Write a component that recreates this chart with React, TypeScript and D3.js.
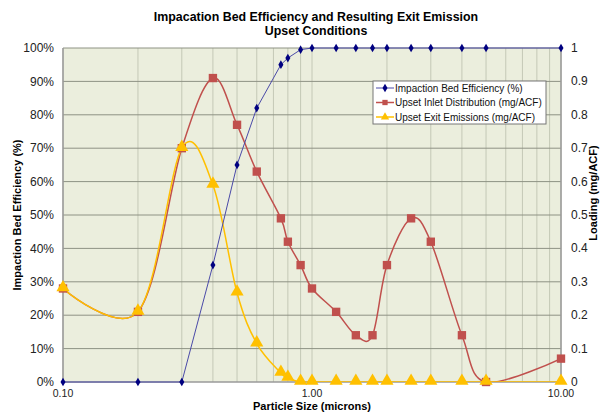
import React, {useEffect, useRef} from 'react'
import * as d3 from 'd3'

const W = 604
const H = 414
const margin = {top: 48, right: 43, bottom: 32, left: 63}

// particle sizes (microns)
const sizes = [0.1, 0.2, 0.3, 0.4, 0.5, 0.6, 0.75, 0.8, 0.9, 1.0, 1.25, 1.5, 1.75, 2.0, 2.5, 3.0, 4.0, 5.0, 10.0]
// impaction bed efficiency (fraction, left axis)
const efficiency = [0, 0, 0, 0.35, 0.65, 0.82, 0.95, 0.97, 0.995, 1, 1, 1, 1, 1, 1, 1, 1, 1, 1]
// upset inlet distribution (mg/ACF, right axis)
const inlet = [0.28, 0.21, 0.70, 0.91, 0.77, 0.63, 0.49, 0.42, 0.35, 0.28, 0.21, 0.14, 0.14, 0.35, 0.49, 0.42, 0.14, 0, 0.07]
// upset exit emissions (mg/ACF, right axis)
const exitEm = [0.28, 0.21, 0.70, 0.59, 0.267, 0.115, 0.027, 0.012, 0, 0, 0, 0, 0, 0, 0, 0, 0, 0, 0]

const leftTicks = [0, 0.1, 0.2, 0.3, 0.4, 0.5, 0.6, 0.7, 0.8, 0.9, 1]
const rightTicks = [0, 0.1, 0.2, 0.3, 0.4, 0.5, 0.6, 0.7, 0.8, 0.9, 1]
const xLabels = [0.1, 1, 10]
const legendItems = ['Impaction Bed Efficiency (%)', 'Upset Inlet Distribution (mg/ACF)', 'Upset Exit Emissions (mg/ACF)']

const blue = '#000080'
const blueLine = '#4a4aa8'
const red = '#C0504D'
const yellow = '#FFC000'
const font = 'Liberation Sans, Arial, sans-serif'

export default function App() {
  const ref = useRef<SVGSVGElement>(null)

  useEffect(() => {
    const svg = d3.select(ref.current)
    svg.selectAll('*').remove()
    const pw = W - margin.left - margin.right
    const ph = H - margin.top - margin.bottom

    const x = d3.scaleLog().domain([0.1, 10]).range([margin.left, margin.left + pw])
    const yL = d3.scaleLinear().domain([0, 1]).range([margin.top + ph, margin.top])
    const yR = d3.scaleLinear().domain([0, 1]).range([margin.top + ph, margin.top])

    svg.append('rect').attr('width', W).attr('height', H).attr('fill', 'white')

    // plot area
    svg.append('rect')
      .attr('x', margin.left).attr('y', margin.top).attr('width', pw).attr('height', ph)
      .attr('fill', '#EBEEDD')

    // vertical minor grid
    const minor = x.ticks()
    svg.append('g').selectAll('line').data(minor).enter().append('line')
      .attr('x1', d => x(d)).attr('x2', d => x(d))
      .attr('y1', margin.top).attr('y2', margin.top + ph)
      .attr('stroke', '#C4C8B6').attr('stroke-width', 1)

    // horizontal grid
    svg.append('g').selectAll('line').data(leftTicks.slice(1)).enter().append('line')
      .attr('x1', margin.left).attr('x2', margin.left + pw)
      .attr('y1', d => yL(d)).attr('y2', d => yL(d))
      .attr('stroke', '#8E9284').attr('stroke-width', 1)

    // axes lines
    svg.append('line').attr('x1', margin.left).attr('x2', margin.left)
      .attr('y1', margin.top).attr('y2', margin.top + ph).attr('stroke', '#9A9A9A').attr('stroke-width', 1.5)
    svg.append('line').attr('x1', margin.left + pw).attr('x2', margin.left + pw)
      .attr('y1', margin.top).attr('y2', margin.top + ph).attr('stroke', '#9A9A9A').attr('stroke-width', 1.5)
    svg.append('line').attr('x1', margin.left).attr('x2', margin.left + pw)
      .attr('y1', margin.top + ph).attr('y2', margin.top + ph).attr('stroke', '#9A9A9A').attr('stroke-width', 1.5)

    // tick labels
    svg.append('g').selectAll('text').data(leftTicks).enter().append('text')
      .attr('x', margin.left - 9).attr('y', d => yL(d)).attr('dy', '0.35em')
      .attr('text-anchor', 'end').attr('font-family', font).attr('font-size', 12).attr('fill', '#222')
      .text(d => Math.round(d * 100) + '%')
    svg.append('g').selectAll('text').data(rightTicks).enter().append('text')
      .attr('x', margin.left + pw + 10).attr('y', d => yR(d)).attr('dy', '0.33em')
      .attr('text-anchor', 'start').attr('font-family', font).attr('font-size', 12).attr('fill', '#222')
      .text(d => String(+d.toFixed(1)))
    svg.append('g').selectAll('text').data(xLabels).enter().append('text')
      .attr('x', d => x(d)).attr('y', margin.top + ph + 15)
      .attr('text-anchor', 'middle').attr('font-family', font).attr('font-size', 10.5).attr('fill', '#222')
      .text(d => d.toFixed(2))

    // titles
    svg.append('text').attr('x', 316).attr('y', 21).attr('text-anchor', 'middle')
      .attr('font-family', font).attr('font-size', 12.4).attr('font-weight', 'bold')
      .text('Impacation Bed Efficiency and Resulting Exit Emission')
    svg.append('text').attr('x', 316).attr('y', 35).attr('text-anchor', 'middle')
      .attr('font-family', font).attr('font-size', 12.4).attr('font-weight', 'bold')
      .text('Upset Conditions')
    svg.append('text').attr('x', 312).attr('y', 410).attr('text-anchor', 'middle')
      .attr('font-family', font).attr('font-size', 11).attr('font-weight', 'bold')
      .text('Particle Size (microns)')
    svg.append('text').attr('transform', 'translate(21,215) rotate(-90)').attr('text-anchor', 'middle')
      .attr('font-family', font).attr('font-size', 11).attr('font-weight', 'bold')
      .text('Impaction Bed Efficiency (%)')
    svg.append('text').attr('transform', 'translate(597,193) rotate(-90)').attr('text-anchor', 'middle')
      .attr('font-family', font).attr('font-size', 11).attr('font-weight', 'bold')
      .text('Loading (mg/ACF)')

    const clip = svg.append('clipPath').attr('id', 'plotclip')
    clip.append('rect').attr('x', margin.left).attr('y', margin.top - 2).attr('width', pw).attr('height', ph + 2)

    const smooth = d3.line<number>()
      .x((_, i) => x(sizes[i]))
      .y(d => yR(d))
      .curve(d3.curveCardinal.tension(0))

    // red
    svg.append('path').datum(inlet).attr('d', smooth).attr('fill', 'none')
      .attr('stroke', red).attr('stroke-width', 1.5).attr('clip-path', 'url(#plotclip)')
    // yellow
    svg.append('path').datum(exitEm).attr('d', smooth).attr('fill', 'none')
      .attr('stroke', yellow).attr('stroke-width', 1.5).attr('clip-path', 'url(#plotclip)')
    // blue
    const straight = d3.line<number>().x((_, i) => x(sizes[i])).y(d => yL(d))
    svg.append('path').datum(efficiency).attr('d', straight).attr('fill', 'none')
      .attr('stroke', blueLine).attr('stroke-width', 1)

    // markers
    const sq = d3.symbol().type(d3.symbolSquare).size(70)
    const tri = d3.symbol().type(d3.symbolTriangle).size(75)
    const dia = d3.symbol().type(d3.symbolDiamond).size(22)
    svg.append('g').selectAll('path').data(inlet).enter().append('path')
      .attr('d', sq).attr('transform', (d, i) => `translate(${x(sizes[i])},${yR(d)})`)
      .attr('fill', red)
    svg.append('g').selectAll('path').data(exitEm).enter().append('path')
      .attr('d', tri).attr('transform', (d, i) => `translate(${x(sizes[i])},${yR(d) - 1})`)
      .attr('fill', yellow)
    svg.append('g').selectAll('path').data(efficiency).enter().append('path')
      .attr('d', dia).attr('transform', (d, i) => `translate(${x(sizes[i])},${yL(d)})`)
      .attr('fill', blue)

    // legend
    const lg = svg.append('g').attr('transform', 'translate(373,81)')
    lg.append('rect').attr('width', 173).attr('height', 43).attr('fill', 'white').attr('stroke', '#777').attr('stroke-width', 1)
    const colors = [blue, red, yellow]
    const lineColors = [blueLine, red, yellow]
    const syms = [dia, d3.symbol().type(d3.symbolSquare).size(28), d3.symbol().type(d3.symbolTriangle).size(30)]
    legendItems.forEach((t, i) => {
      const yy = 7 + i * 14.5
      lg.append('line').attr('x1', 3).attr('x2', 21).attr('y1', yy).attr('y2', yy)
        .attr('stroke', lineColors[i]).attr('stroke-width', i === 0 ? 1 : 1.5)
      lg.append('path').attr('d', syms[i]).attr('transform', `translate(12,${yy})`).attr('fill', colors[i])
      lg.append('text').attr('x', 22).attr('y', yy).attr('dy', '0.35em')
        .attr('font-family', font).attr('font-size', 10).attr('fill', '#111').text(t)
    })
  }, [])

  return (
    <svg ref={ref} width={W} height={H} style={{position: 'absolute', left: 0, top: 0}} />
  )
}
